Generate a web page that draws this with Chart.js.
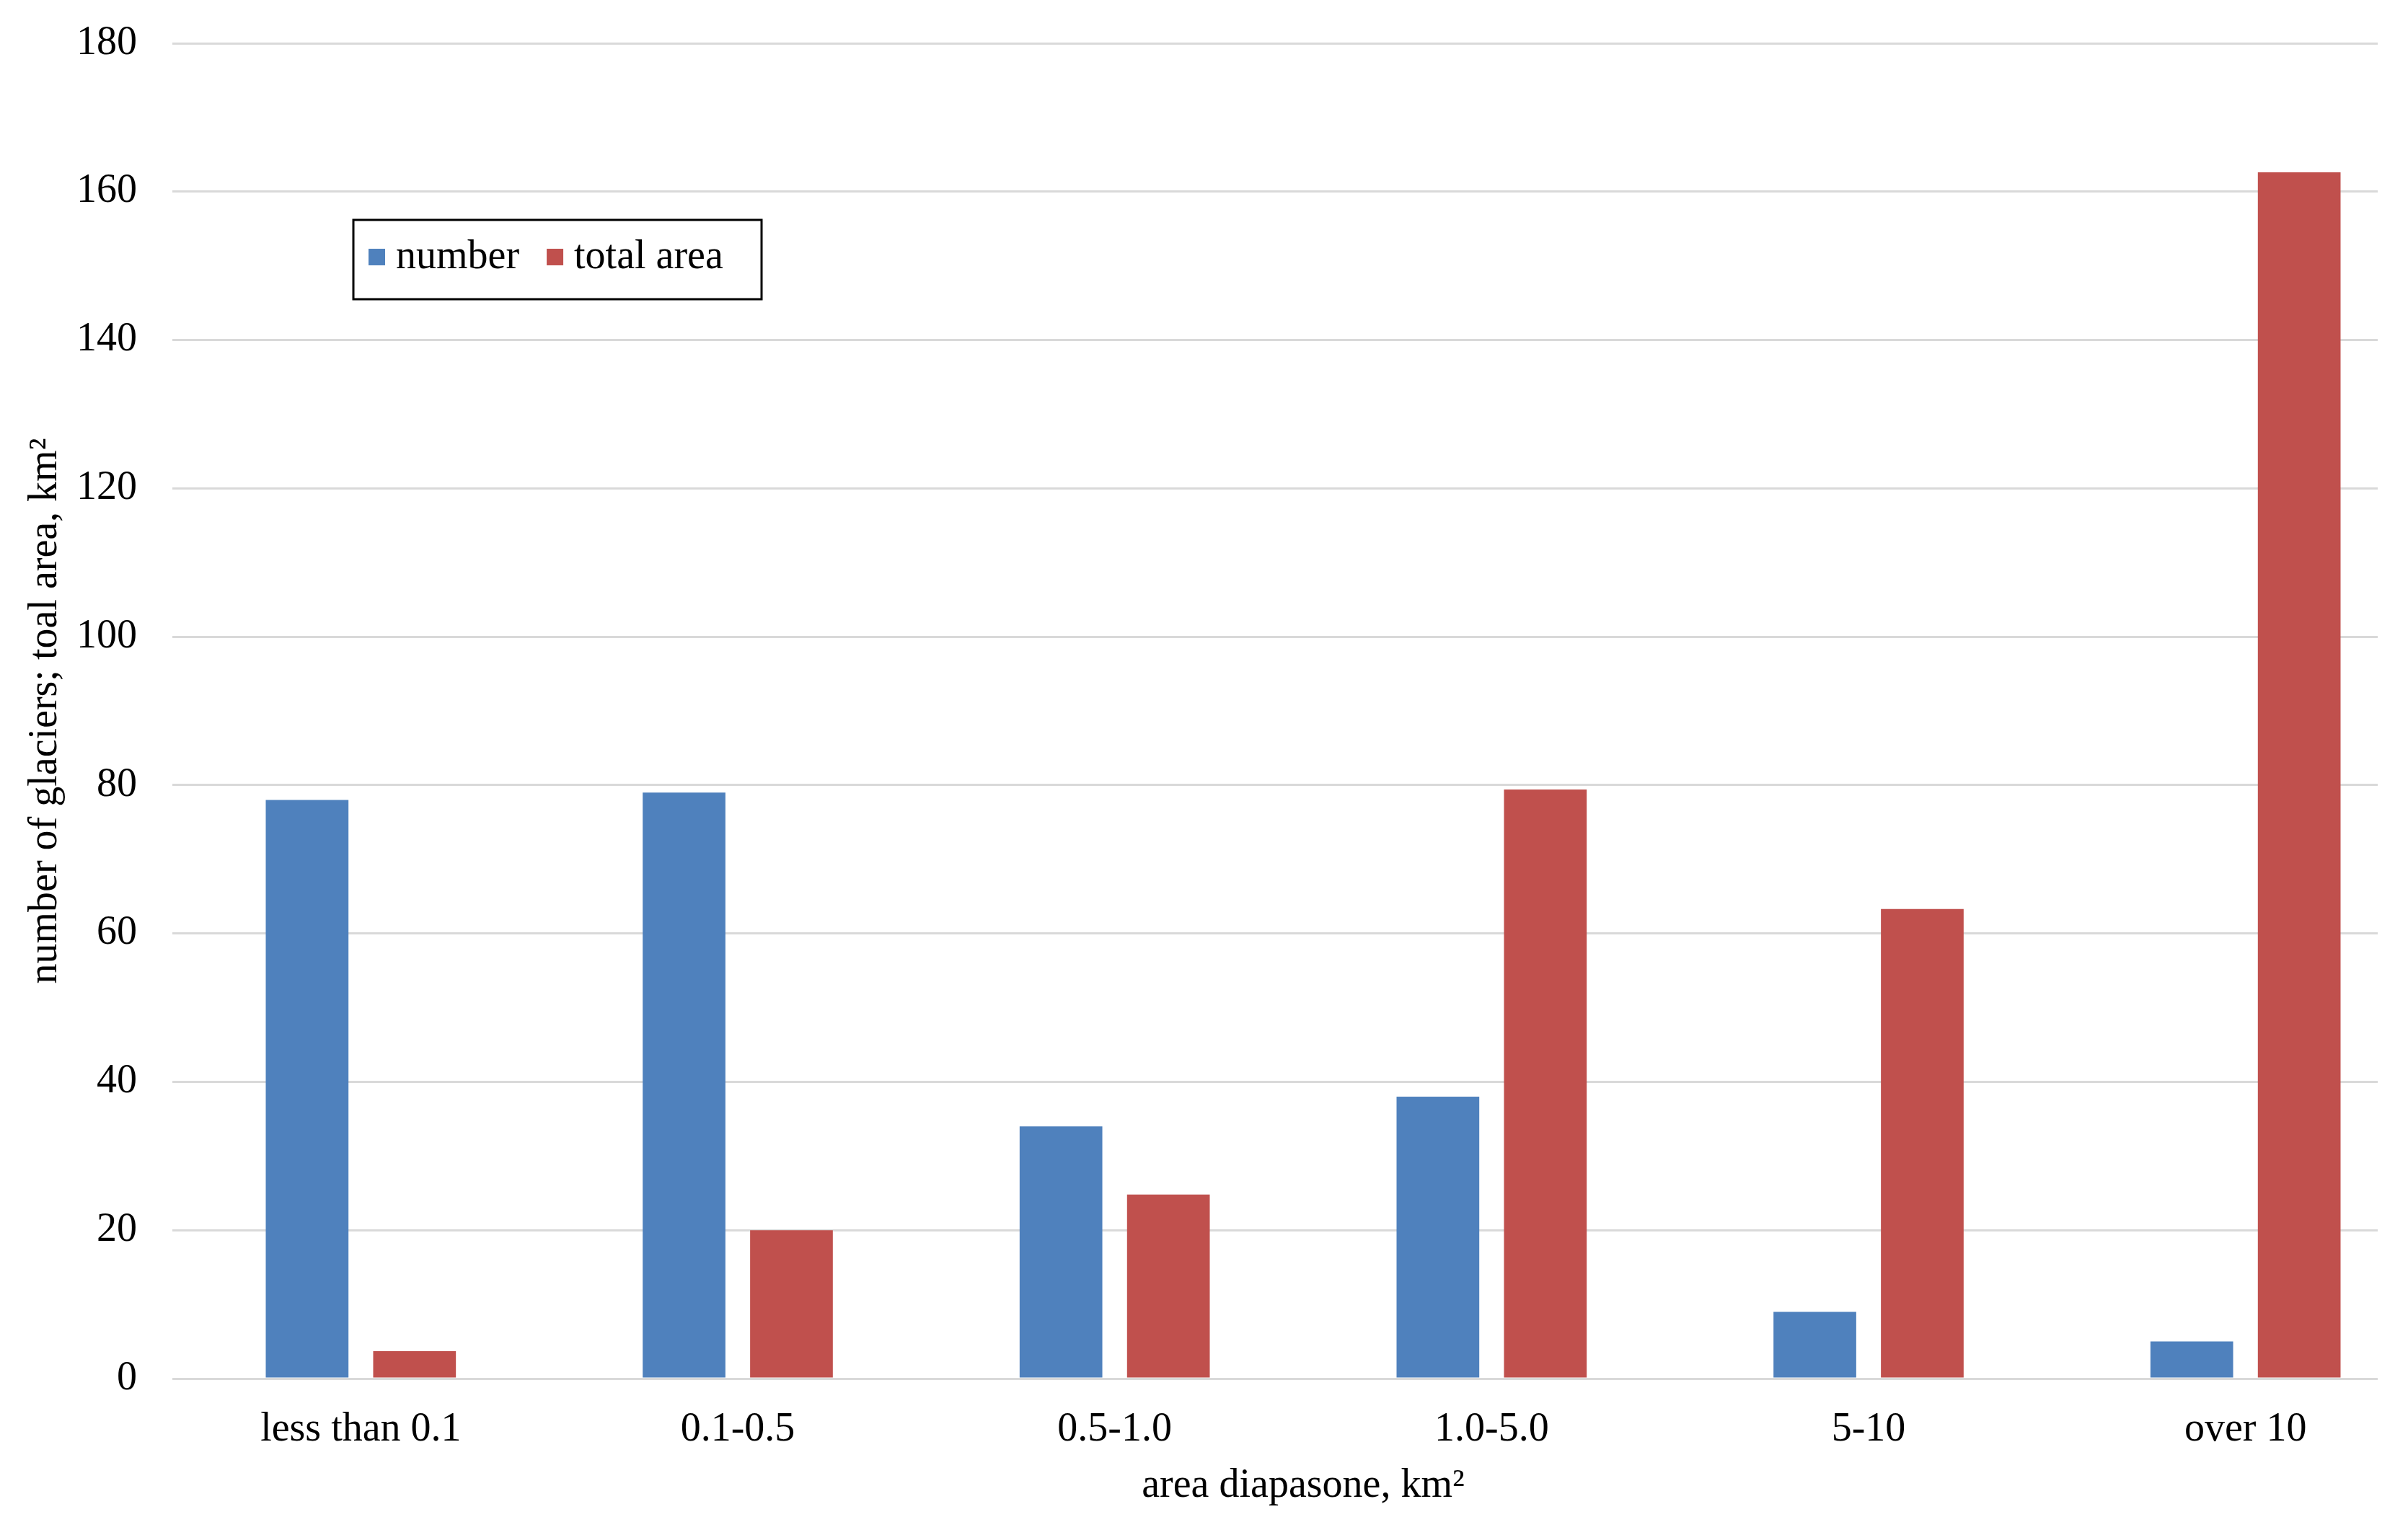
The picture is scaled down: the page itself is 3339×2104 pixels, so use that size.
<!DOCTYPE html>
<html>
<head>
<meta charset="utf-8">
<script src="https://cdn.jsdelivr.net/npm/chart.js@4/dist/chart.umd.min.js"></script>
<style>
  html, body { margin: 0; padding: 0; background: #fff; overflow: hidden; }
  #wrap { width: 3339px; height: 2104px; overflow: hidden; }
</style>
</head>
<body>
<div id="wrap"><canvas id="myChart" width="3420" height="2104"></canvas></div>
<script>
const categories = ["less than 0.1", "0.1-0.5", "0.5-1.0", "1.0-5.0", "5-10", "over 10"];
const numberValues = [78, 79, 34, 38, 9, 5];
const totalAreaValues = [3.7, 20, 24.8, 79.4, 63.3, 162.6];
const yTicks = [0, 20, 40, 60, 80, 100, 120, 140, 160, 180];

const FONT = "'Liberation Serif', 'Times New Roman', serif";
const BLUE = "#4F81BD";
const RED = "#C0504D";
const GRID_END = 3297; // the original's gridlines stop short of its last category

// the source image is cropped on the right: hide gridline tails past GRID_END
const trimGrid = {
  id: "trimGrid",
  beforeDatasetsDraw(c) {
    const ctx = c.ctx;
    ctx.save();
    ctx.fillStyle = "#fff";
    ctx.fillRect(GRID_END, c.chartArea.top - 10, c.width - GRID_END, c.chartArea.bottom - c.chartArea.top + 20);
    ctx.restore();
  }
};

// legend drawn as a framed box inside the plot, like the original
const boxLegend = {
  id: "boxLegend",
  afterDraw(c) {
    const ctx = c.ctx;
    const x = 490, y = 305, w = 566, h = 110;
    ctx.save();
    ctx.strokeStyle = "#000";
    ctx.lineWidth = 3;
    ctx.fillStyle = "#fff";
    ctx.fillRect(x, y, w, h);
    ctx.strokeRect(x, y, w, h);
    ctx.font = "56px " + FONT;
    ctx.textBaseline = "middle";
    let cx = x + 21;
    const cy = y + h / 2 - 3;
    c.data.datasets.forEach(ds => {
      ctx.fillStyle = ds.backgroundColor;
      ctx.fillRect(cx, cy - 12, 23, 23);
      cx += 38;
      ctx.fillStyle = "#000";
      ctx.fillText(ds.label, cx, cy);
      cx += ctx.measureText(ds.label).width + 38;
    });
    ctx.restore();
  }
};

new Chart(document.getElementById("myChart"), {
  type: "bar",
  data: {
    labels: categories,
    datasets: [
      { label: "number", data: numberValues, backgroundColor: BLUE },
      { label: "total area", data: totalAreaValues, backgroundColor: RED },
    ]
  },
  options: {
    responsive: false,
    animation: false,
    devicePixelRatio: 1,
    categoryPercentage: 0.57,
    barPercentage: 0.77,
    layout: { padding: { top: 60, right: 45, left: 0, bottom: 0 } },
    plugins: {
      legend: { display: false },
      tooltip: { enabled: false },
    },
    scales: {
      x: {
        grid: { display: false },
        border: { display: false },
        ticks: { color: "#000", font: { family: FONT, size: 56 }, padding: 30, maxRotation: 0 },
        title: { display: true, text: "area diapasone, km²", color: "#000", font: { family: FONT, size: 56 }, padding: { top: 0, bottom: 9 } },
        afterFit: s => { s.height = 192; s.paddingLeft = 0; s.paddingRight = 0; },
      },
      y: {
        min: 0,
        max: 180,
        afterBuildTicks: s => { s.ticks = yTicks.map(v => ({ value: v })); },
        grid: { color: "#d9d9d9", lineWidth: 3, drawTicks: false },
        border: { display: false },
        ticks: { color: "#000", font: { family: FONT, size: 56 }, padding: 49 },
        title: { display: true, text: "number of glaciers; toal area, km²", color: "#000", font: { family: FONT, size: 56 }, padding: { top: 30, bottom: 0 } },
        afterFit: s => { s.width = 239; s.paddingTop = 0; s.paddingBottom = 0; },
      }
    }
  },
  plugins: [trimGrid, boxLegend]
});
</script>
</body>
</html>
